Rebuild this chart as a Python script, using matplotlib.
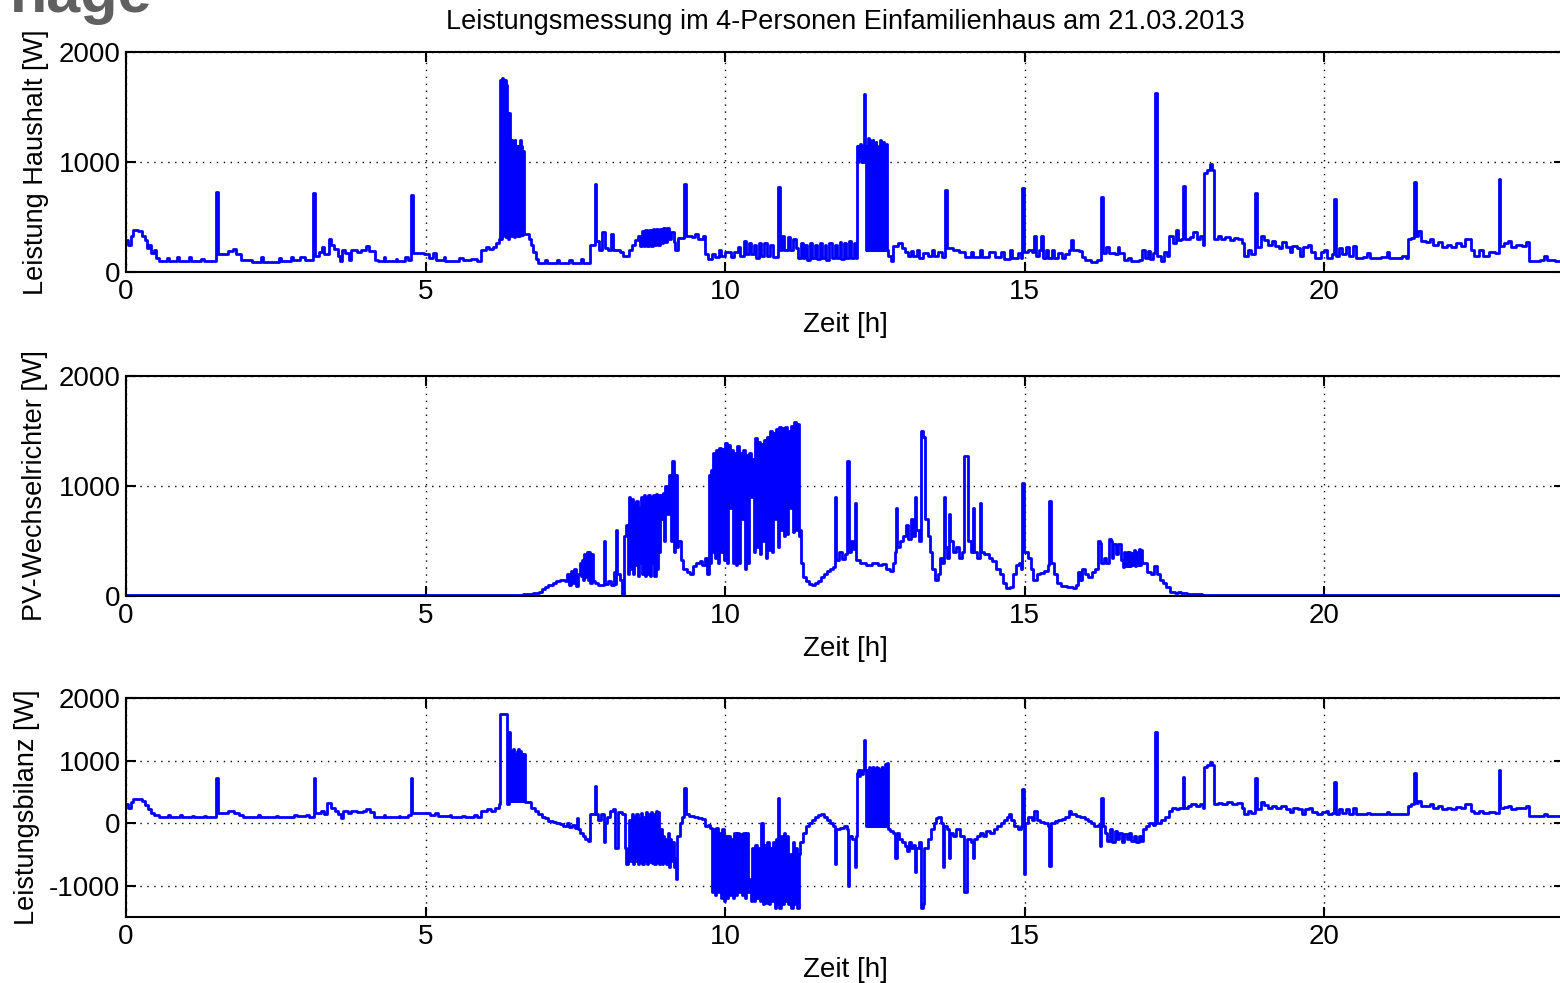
import matplotlib
matplotlib.use('Agg')
import matplotlib.pyplot as plt

plt.rcParams['font.family'] = ['Liberation Sans', 'DejaVu Sans']
plt.rcParams['axes.unicode_minus'] = False

# Leistung Haushalt [W] - (Zeit [h], Wert) Stufenpunkte
haus = [
    (0.00, 290), (0.04, 250), (0.08, 330), (0.11, 380), (0.20, 370), (0.27, 330), (0.31, 290),
    (0.35, 220), (0.38, 250), (0.41, 170), (0.46, 200), (0.50, 130), (0.55, 100), (0.68, 130),
    (0.72, 100), (0.85, 140), (0.88, 100), (1.05, 140), (1.09, 100), (1.25, 120), (1.30, 100),
    (1.50, 730), (1.53, 160), (1.70, 190), (1.78, 210), (1.84, 160), (1.92, 110), (2.10, 95),
    (2.25, 140), (2.28, 95), (2.55, 130), (2.58, 100), (2.75, 140), (2.78, 110), (2.90, 140),
    (2.98, 110), (3.12, 720), (3.15, 150), (3.22, 180), (3.27, 230), (3.31, 160), (3.38, 300),
    (3.42, 250), (3.47, 210), (3.53, 150), (3.57, 100), (3.60, 200), (3.66, 170), (3.72, 110),
    (3.76, 200), (3.85, 180), (3.93, 200), (4.00, 240), (4.06, 190), (4.16, 110), (4.20, 100),
    (4.30, 140), (4.33, 100), (4.50, 120), (4.53, 100), (4.66, 140), (4.70, 110), (4.75, 700),
    (4.79, 170), (4.97, 160), (5.05, 130), (5.12, 170), (5.18, 110), (5.30, 140), (5.33, 100),
    (5.55, 130), (5.62, 110), (5.75, 120), (5.85, 100), (5.93, 200), (6.00, 230), (6.06, 210),
    (6.12, 230), (6.18, 260), (6.22, 300),
    (6.25, 1750), (6.265, 300), (6.275, 1760), (6.29, 330), (6.30, 1750), (6.315, 1000),
    (6.325, 1750), (6.34, 320), (6.35, 1700), (6.365, 1450), (6.38, 300), (6.39, 1450),
    (6.41, 1000), (6.425, 330), (6.435, 1200), (6.45, 850), (6.46, 1180), (6.475, 320),
    (6.49, 1200), (6.50, 700), (6.515, 1150), (6.53, 330), (6.54, 1150), (6.555, 330),
    (6.57, 1200), (6.585, 340), (6.60, 1150), (6.615, 340), (6.63, 1100), (6.645, 350),
    (6.73, 300), (6.76, 250), (6.80, 180), (6.84, 120), (6.87, 80), (7.00, 110), (7.03, 80),
    (7.20, 110), (7.23, 80), (7.40, 110), (7.45, 80), (7.60, 120), (7.63, 80), (7.74, 250),
    (7.82, 800), (7.85, 280), (7.90, 200), (7.95, 360), (7.99, 220), (8.05, 200), (8.10, 350),
    (8.13, 200), (8.25, 180), (8.30, 150), (8.39, 200), (8.45, 250), (8.50, 290),
    (8.55, 330), (8.58, 240), (8.61, 370), (8.64, 240), (8.67, 380), (8.70, 240), (8.73, 380),
    (8.76, 240), (8.79, 390), (8.82, 250), (8.85, 390), (8.88, 250), (8.91, 390), (8.94, 260),
    (8.97, 400), (9.00, 270), (9.03, 400), (9.06, 300), (9.10, 360), (9.14, 270), (9.17, 200),
    (9.22, 310), (9.31, 800), (9.34, 330), (9.45, 320), (9.50, 350), (9.55, 300), (9.63, 330),
    (9.67, 160), (9.72, 120), (9.78, 160), (9.83, 140), (9.90, 200), (9.93, 150), (10.00, 180),
    (10.10, 140), (10.15, 180), (10.22, 230), (10.25, 150), (10.32, 280), (10.35, 160),
    (10.40, 260), (10.43, 160), (10.48, 250), (10.52, 130), (10.56, 260), (10.60, 150),
    (10.65, 260), (10.70, 150), (10.75, 250), (10.80, 140), (10.88, 770), (10.91, 200),
    (10.95, 330), (10.99, 200), (11.05, 320), (11.08, 200), (11.13, 300), (11.18, 220),
    (11.22, 130), (11.27, 260), (11.30, 130), (11.34, 250), (11.37, 110), (11.42, 260),
    (11.45, 130), (11.50, 250), (11.53, 120), (11.58, 260), (11.61, 130), (11.66, 250),
    (11.69, 110), (11.74, 260), (11.78, 130), (11.83, 250), (11.86, 130), (11.91, 270),
    (11.94, 120), (11.99, 260), (12.02, 130), (12.07, 280), (12.10, 130), (12.15, 260),
    (12.18, 130),
    (12.20, 1150), (12.215, 1000), (12.225, 1150), (12.24, 1050), (12.25, 1160), (12.265, 1000),
    (12.28, 1150), (12.295, 1000), (12.31, 1120), (12.325, 1620), (12.335, 1100),
    (12.35, 200), (12.36, 1150), (12.375, 200), (12.385, 1220), (12.40, 200), (12.41, 1200),
    (12.425, 200), (12.435, 1150), (12.45, 200), (12.46, 1200), (12.475, 200), (12.485, 1150),
    (12.50, 200), (12.51, 1180), (12.525, 200), (12.535, 1100), (12.55, 200), (12.56, 1150),
    (12.575, 200), (12.585, 1200), (12.60, 200), (12.61, 1150), (12.625, 200), (12.635, 1180),
    (12.65, 200), (12.66, 1150), (12.675, 200), (12.685, 1160), (12.70, 200), (12.71, 150),
    (12.76, 100), (12.80, 240), (12.88, 260), (12.95, 220), (13.00, 180), (13.05, 150),
    (13.10, 190), (13.13, 150), (13.20, 200), (13.23, 130), (13.30, 170), (13.38, 150),
    (13.45, 200), (13.48, 150), (13.56, 180), (13.62, 140), (13.67, 750), (13.70, 220),
    (13.80, 200), (13.90, 180), (14.00, 140), (14.10, 180), (14.13, 140), (14.25, 200),
    (14.28, 140), (14.40, 180), (14.50, 140), (14.60, 180), (14.65, 120), (14.75, 200),
    (14.78, 130), (14.88, 170), (14.93, 130), (14.96, 760), (14.99, 180), (15.05, 200),
    (15.12, 180), (15.16, 330), (15.19, 150), (15.24, 200), (15.27, 330), (15.30, 130),
    (15.35, 200), (15.38, 130), (15.45, 200), (15.48, 130), (15.56, 170), (15.62, 130),
    (15.68, 160), (15.74, 200), (15.77, 290), (15.80, 200), (15.90, 190), (15.95, 140),
    (16.00, 110), (16.10, 90), (16.20, 110), (16.27, 680), (16.30, 170), (16.36, 230),
    (16.40, 170), (16.50, 160), (16.55, 230), (16.58, 170), (16.65, 110), (16.72, 130),
    (16.78, 100), (16.90, 110), (16.96, 200), (17.00, 130), (17.05, 190), (17.09, 120),
    (17.14, 170), (17.18, 1630), (17.21, 150), (17.28, 100), (17.33, 180), (17.38, 150),
    (17.41, 330), (17.47, 260), (17.52, 380), (17.56, 290), (17.60, 300), (17.64, 780),
    (17.67, 300), (17.75, 320), (17.80, 360), (17.88, 300), (17.93, 330), (17.97, 250),
    (17.99, 900), (18.05, 930), (18.09, 980), (18.12, 930), (18.16, 300), (18.22, 330),
    (18.28, 300), (18.35, 320), (18.42, 290), (18.50, 310), (18.56, 300), (18.62, 260),
    (18.66, 150), (18.72, 200), (18.78, 160), (18.85, 720), (18.88, 230), (18.95, 330),
    (19.00, 290), (19.06, 250), (19.12, 280), (19.18, 240), (19.25, 220), (19.30, 270),
    (19.36, 230), (19.42, 180), (19.46, 240), (19.55, 220), (19.60, 150), (19.65, 230),
    (19.72, 250), (19.78, 180), (19.85, 130), (19.95, 180), (20.00, 200), (20.05, 130),
    (20.12, 160), (20.16, 660), (20.19, 150), (20.25, 220), (20.30, 160), (20.36, 230),
    (20.42, 150), (20.48, 240), (20.53, 130), (20.65, 140), (20.72, 170), (20.76, 130),
    (20.95, 140), (21.05, 180), (21.08, 130), (21.30, 150), (21.36, 130), (21.39, 300),
    (21.45, 310), (21.50, 820), (21.53, 330), (21.57, 370), (21.62, 280), (21.70, 270),
    (21.76, 300), (21.82, 250), (21.90, 270), (21.96, 230), (22.05, 250), (22.12, 230),
    (22.20, 260), (22.28, 240), (22.34, 300), (22.44, 200), (22.50, 150), (22.58, 200),
    (22.64, 150), (22.75, 180), (22.85, 170), (22.91, 850), (22.94, 240), (23.00, 260),
    (23.06, 280), (23.12, 230), (23.20, 250), (23.30, 240), (23.36, 270), (23.42, 100),
    (23.60, 110), (23.66, 150), (23.72, 110), (23.85, 100), (24.00, 110),
]

# PV-Wechselrichter [W]
pv = [
    (0.00, 10), (6.62, 15), (6.80, 25), (6.90, 40), (6.95, 60), (7.00, 80), (7.05, 100),
    (7.12, 120), (7.18, 140), (7.25, 150), (7.32, 140), (7.36, 200), (7.39, 100), (7.42, 230),
    (7.45, 120), (7.48, 250), (7.51, 90), (7.54, 200), (7.57, 300), (7.59, 180), (7.61, 330),
    (7.63, 150), (7.65, 380), (7.67, 170), (7.69, 400), (7.71, 150), (7.73, 400), (7.75, 120),
    (7.77, 380), (7.79, 140), (7.82, 120), (7.88, 100), (7.97, 500), (7.99, 110), (8.05, 140),
    (8.10, 100), (8.14, 220), (8.16, 110), (8.18, 600), (8.20, 200), (8.24, 150), (8.28, 10),
    (8.31, 550), (8.35, 650), (8.38, 200),
    (8.40, 900), (8.42, 250), (8.44, 880), (8.46, 200), (8.48, 850), (8.50, 280), (8.52, 860),
    (8.54, 180), (8.56, 800), (8.58, 300), (8.60, 900), (8.62, 200), (8.64, 920), (8.66, 180),
    (8.68, 900), (8.70, 200), (8.72, 920), (8.74, 180), (8.76, 900), (8.78, 300), (8.80, 920),
    (8.82, 180), (8.84, 930), (8.86, 250), (8.88, 920), (8.90, 400), (8.92, 920), (8.94, 700),
    (8.96, 940), (8.98, 500), (9.00, 1000), (9.03, 750), (9.06, 1100), (9.09, 500),
    (9.12, 1230), (9.14, 400), (9.17, 1100), (9.19, 450), (9.22, 500), (9.26, 330),
    (9.30, 250), (9.36, 220), (9.42, 200), (9.47, 270), (9.52, 300), (9.58, 320), (9.62, 280),
    (9.66, 350), (9.70, 200), (9.73, 1100), (9.745, 300), (9.76, 1150), (9.775, 400),
    (9.79, 1300),
    (9.800, 1300), (9.825, 350), (9.850, 1330), (9.875, 300), (9.900, 1350), (9.925, 400),
    (9.950, 1340), (9.975, 330), (10.000, 1390), (10.025, 300), (10.050, 1370), (10.075, 800),
    (10.100, 1330), (10.125, 300), (10.150, 1300), (10.175, 280), (10.200, 1360), (10.225, 300),
    (10.250, 1300), (10.275, 700), (10.300, 1330), (10.325, 250), (10.350, 1280), (10.375, 300),
    (10.400, 1300), (10.425, 900), (10.450, 1250), (10.475, 400), (10.500, 1440), (10.525, 450),
    (10.550, 1400), (10.575, 380), (10.600, 1380), (10.625, 500), (10.650, 1420), (10.675, 350),
    (10.700, 1450), (10.725, 420), (10.750, 1500), (10.775, 400), (10.800, 1480), (10.825, 700),
    (10.850, 1520), (10.875, 450), (10.900, 1540), (10.925, 600), (10.950, 1530), (10.975, 550),
    (11.000, 1540), (11.025, 560), (11.050, 1500), (11.075, 800), (11.100, 1550), (11.125, 580),
    (11.150, 1580), (11.175, 600), (11.200, 1560), (11.225, 550),
    (11.25, 600), (11.27, 300), (11.30, 170), (11.35, 140), (11.40, 110), (11.45, 100),
    (11.50, 120), (11.55, 140), (11.60, 170), (11.65, 200), (11.70, 230), (11.75, 250),
    (11.80, 260), (11.83, 900), (11.85, 330), (11.90, 400), (11.95, 340), (12.00, 380),
    (12.04, 1230), (12.07, 400), (12.10, 500), (12.14, 430), (12.16, 850), (12.18, 330),
    (12.25, 300), (12.35, 280), (12.45, 300), (12.55, 280), (12.62, 290), (12.68, 250),
    (12.75, 230), (12.80, 300), (12.83, 400), (12.85, 800), (12.87, 450), (12.92, 500),
    (12.97, 550), (13.02, 650), (13.05, 520), (13.10, 700), (13.13, 550), (13.17, 900),
    (13.19, 600), (13.24, 500), (13.27, 1500), (13.31, 1450), (13.33, 700), (13.38, 550),
    (13.42, 400), (13.46, 250), (13.50, 150), (13.55, 200), (13.58, 350), (13.62, 300),
    (13.65, 900), (13.67, 450), (13.71, 350), (13.74, 750), (13.76, 500), (13.80, 400),
    (13.85, 450), (13.90, 350), (13.96, 400), (13.98, 1270), (14.05, 500), (14.10, 400),
    (14.13, 800), (14.15, 400), (14.20, 350), (14.25, 850), (14.27, 400), (14.32, 380),
    (14.40, 350), (14.46, 320), (14.52, 250), (14.58, 200), (14.64, 120), (14.68, 70),
    (14.76, 80), (14.80, 200), (14.85, 280), (14.90, 300), (14.94, 250), (14.96, 1030),
    (14.99, 400), (15.05, 350), (15.10, 250), (15.14, 150), (15.20, 200), (15.26, 210),
    (15.32, 230), (15.38, 280), (15.40, 860), (15.43, 300), (15.48, 200), (15.53, 120),
    (15.60, 90), (15.70, 80), (15.80, 70), (15.86, 100), (15.89, 220), (15.93, 150),
    (15.96, 250), (16.00, 200), (16.06, 170), (16.12, 220), (16.18, 250), (16.22, 500),
    (16.25, 480), (16.28, 300), (16.32, 350), (16.36, 300), (16.40, 520), (16.44, 500),
    (16.46, 350), (16.48, 470), (16.52, 380), (16.56, 470), (16.60, 330), (16.64, 260),
    (16.66, 400), (16.68, 270), (16.70, 400), (16.72, 270), (16.74, 400), (16.76, 270),
    (16.78, 390), (16.80, 280), (16.82, 420), (16.84, 270), (16.86, 400), (16.88, 280),
    (16.90, 430), (16.92, 280), (16.94, 420), (16.96, 300), (17.00, 300), (17.04, 220),
    (17.10, 200), (17.16, 270), (17.20, 200), (17.25, 150), (17.30, 120), (17.36, 80),
    (17.42, 40), (17.50, 30), (17.55, 40), (17.60, 25), (17.70, 20), (17.80, 15),
    (17.95, 10), (24.00, 10),
]

# Leistungsbilanz [W]
bilanz = [
    (0.00, 300), (0.04, 250), (0.08, 330), (0.11, 380), (0.27, 350), (0.31, 290), (0.36, 220),
    (0.41, 160), (0.47, 130), (0.55, 100), (0.70, 130), (0.73, 100), (0.90, 130), (0.93, 100),
    (1.10, 120), (1.13, 100), (1.30, 120), (1.33, 100), (1.50, 720), (1.53, 170), (1.70, 190),
    (1.80, 170), (1.88, 130), (1.95, 100), (2.20, 130), (2.23, 100), (2.50, 120), (2.53, 100),
    (2.80, 130), (2.85, 110), (3.00, 130), (3.05, 100), (3.13, 720), (3.16, 170), (3.25, 200),
    (3.30, 150), (3.36, 320), (3.42, 250), (3.48, 200), (3.54, 150), (3.58, 80), (3.62, 200),
    (3.70, 170), (3.76, 200), (3.85, 180), (3.95, 200), (4.00, 230), (4.08, 180), (4.14, 100),
    (4.30, 130), (4.33, 100), (4.55, 120), (4.58, 100), (4.70, 130), (4.75, 720), (4.78, 170),
    (5.00, 170), (5.08, 130), (5.15, 160), (5.20, 110), (5.40, 130), (5.43, 100), (5.60, 120),
    (5.65, 100), (5.80, 130), (5.85, 100), (5.93, 200), (6.02, 230), (6.10, 200), (6.16, 250),
    (6.22, 300), (6.25, 1750), (6.36, 300), (6.385, 1450), (6.415, 1000), (6.425, 350),
    (6.435, 1150), (6.45, 350), (6.46, 1180), (6.475, 350), (6.49, 1100), (6.505, 350),
    (6.52, 1150), (6.535, 350), (6.55, 1180), (6.565, 350), (6.58, 1150), (6.595, 350),
    (6.61, 1100), (6.625, 350), (6.64, 1100), (6.655, 340), (6.72, 330), (6.76, 250),
    (6.82, 200), (6.88, 150), (6.95, 100), (7.00, 80), (7.05, 40), (7.12, 20), (7.18, 0),
    (7.25, -20), (7.30, -40), (7.36, 0), (7.40, -60), (7.45, -30), (7.50, -80), (7.52, 80),
    (7.54, -100), (7.58, -150), (7.62, -200), (7.66, -260), (7.71, -290), (7.74, 150),
    (7.82, 600), (7.84, 150), (7.88, 50), (7.92, 150), (7.97, -300), (7.99, 0), (8.03, 100),
    (8.08, 200), (8.13, 230), (8.16, -400), (8.21, 180), (8.27, 150), (8.32, -400),
    (8.35, -650), (8.38, -400),
    (8.40, 50), (8.42, -600), (8.44, 150), (8.46, -650), (8.48, 100), (8.50, -600), (8.52, 150),
    (8.54, -650), (8.56, 80), (8.58, -620), (8.60, 160), (8.62, -650), (8.64, 100), (8.66, -600),
    (8.68, 180), (8.70, -650), (8.72, 150), (8.74, -620), (8.76, 180), (8.78, -640), (8.80, 150),
    (8.82, -650), (8.84, 200), (8.86, -620), (8.88, 180), (8.90, -660), (8.92, -100),
    (8.94, -650), (8.96, -200), (8.98, -620), (9.00, -250), (9.02, -650), (9.04, -150),
    (9.06, -700), (9.08, -250), (9.10, -600), (9.12, -300), (9.14, -700), (9.16, -550),
    (9.18, -900), (9.20, -200), (9.24, 0), (9.28, 100), (9.31, 560), (9.34, 150), (9.40, 120),
    (9.48, 100), (9.55, 80), (9.62, 60), (9.67, -50), (9.72, -30), (9.75, -80),
    (9.775, -1100), (9.800, -100), (9.825, -1150), (9.850, -80), (9.875, -1100), (9.900, -150),
    (9.925, -1200), (9.950, -100), (9.975, -1250), (10.000, -200), (10.025, -1200),
    (10.050, -200), (10.075, -1150), (10.100, -250), (10.125, -1200), (10.150, -150),
    (10.175, -1150), (10.200, -150), (10.225, -1100), (10.250, -180), (10.275, -1150),
    (10.300, -150), (10.325, -1200), (10.350, -150), (10.375, -1100), (10.400, -900),
    (10.425, -1250), (10.450, -400), (10.475, -1250), (10.500, -350), (10.525, -1200),
    (10.550, -400), (10.575, -1250), (10.600, 0), (10.625, -1300), (10.650, -350),
    (10.675, -1280), (10.700, -300), (10.725, -1300), (10.750, -400), (10.775, -1250),
    (10.800, -300), (10.825, -1350), (10.850, -250), (10.875, -1300), (10.890, 400),
    (10.905, -1350), (10.925, -200), (10.950, -1300), (10.975, -150), (11.000, -1250),
    (11.025, -200), (11.050, -1300), (11.075, -500), (11.100, -1350), (11.125, -300),
    (11.150, -1300), (11.175, -400), (11.200, -1350), (11.225, -500),
    (11.25, -300), (11.30, -150), (11.35, -50), (11.40, 0), (11.45, 50), (11.50, 100),
    (11.55, 130), (11.60, 150), (11.65, 100), (11.70, 50), (11.75, 0), (11.80, -50),
    (11.83, -650), (11.85, -100), (11.92, -80), (11.98, -50), (12.03, -100), (12.05, -1000),
    (12.07, -200), (12.12, -250), (12.16, -700), (12.18, -200),
    (12.20, 800), (12.215, 850), (12.23, 750), (12.245, 850), (12.26, 800), (12.275, 830),
    (12.29, 780), (12.305, 850), (12.325, 1330), (12.34, 850), (12.355, -50), (12.37, 850),
    (12.385, -50), (12.40, 900), (12.415, -50), (12.43, 880), (12.445, -50), (12.46, 900),
    (12.475, -50), (12.49, 860), (12.505, -50), (12.52, 900), (12.535, -50), (12.55, 880),
    (12.565, -50), (12.58, 850), (12.595, -50), (12.61, 900), (12.625, -50), (12.64, 880),
    (12.655, -50), (12.67, 950), (12.685, -50), (12.70, 960), (12.715, -100),
    (12.75, -120), (12.80, -150), (12.84, -550), (12.86, -150), (12.90, -250), (12.95, -300),
    (13.00, -370), (13.04, -450), (13.06, -300), (13.10, -400), (13.14, -350), (13.17, -780),
    (13.19, -400), (13.23, -300), (13.27, -1350), (13.30, -1300), (13.32, -400),
    (13.38, -250), (13.44, -100), (13.48, 0), (13.52, 80), (13.56, 100), (13.60, 0),
    (13.64, -700), (13.66, -50), (13.70, -100), (13.73, -550), (13.75, -150), (13.80, -200),
    (13.86, -100), (13.92, -200), (13.98, -1100), (14.03, -250), (14.10, -300),
    (14.13, -550), (14.15, -250), (14.20, -200), (14.25, -150), (14.30, -200), (14.36, -120),
    (14.42, -160), (14.48, -100), (14.54, -50), (14.60, 0), (14.66, 50), (14.70, 100),
    (14.73, 150), (14.77, 50), (14.82, -50), (14.88, -100), (14.93, -50), (14.95, 550),
    (14.98, -820), (15.01, 0), (15.06, 100), (15.12, 50), (15.16, 200), (15.20, 50),
    (15.26, 20), (15.32, 0), (15.38, -50), (15.41, -690), (15.44, 0), (15.50, 30),
    (15.56, 50), (15.62, 60), (15.68, 100), (15.74, 200), (15.78, 150), (15.85, 120),
    (15.92, 100), (16.00, 60), (16.05, 30), (16.10, 0), (16.16, -50), (16.22, -30),
    (16.26, -360), (16.28, 400), (16.30, -50), (16.34, -150), (16.38, -280), (16.42, -100),
    (16.46, -300), (16.50, -120), (16.54, -250), (16.58, -150), (16.62, -300), (16.66, -180),
    (16.70, -250), (16.74, -150), (16.78, -280), (16.82, -200), (16.86, -300), (16.90, -200),
    (16.94, -290), (16.98, -100), (17.02, -50), (17.08, 0), (17.14, -30), (17.18, 1450),
    (17.21, 0), (17.28, 50), (17.34, 100), (17.40, 200), (17.46, 250), (17.52, 230),
    (17.58, 250), (17.64, 730), (17.66, 250), (17.72, 280), (17.78, 300), (17.85, 270),
    (17.92, 300), (17.97, 250), (17.99, 900), (18.05, 930), (18.09, 970), (18.13, 930),
    (18.16, 300), (18.22, 320), (18.30, 300), (18.38, 330), (18.46, 300), (18.55, 320),
    (18.62, 250), (18.66, 150), (18.72, 200), (18.78, 160), (18.85, 720), (18.88, 230),
    (18.95, 330), (19.00, 290), (19.06, 250), (19.12, 280), (19.20, 240), (19.28, 270),
    (19.36, 230), (19.42, 180), (19.48, 240), (19.56, 220), (19.62, 150), (19.68, 230),
    (19.74, 250), (19.80, 180), (19.88, 150), (19.96, 180), (20.02, 200), (20.06, 140),
    (20.12, 170), (20.16, 660), (20.19, 150), (20.25, 220), (20.30, 160), (20.36, 230),
    (20.42, 150), (20.48, 250), (20.53, 140), (20.65, 150), (20.72, 170), (20.76, 140),
    (20.95, 150), (21.05, 180), (21.08, 140), (21.30, 150), (21.36, 140), (21.39, 280),
    (21.45, 300), (21.50, 800), (21.53, 320), (21.57, 360), (21.62, 280), (21.70, 270),
    (21.76, 300), (21.82, 250), (21.90, 270), (21.96, 230), (22.05, 250), (22.12, 230),
    (22.20, 260), (22.28, 240), (22.34, 300), (22.44, 200), (22.50, 160), (22.58, 200),
    (22.64, 160), (22.75, 180), (22.85, 170), (22.91, 850), (22.94, 240), (23.00, 260),
    (23.06, 280), (23.12, 230), (23.20, 250), (23.30, 240), (23.36, 270), (23.42, 110),
    (23.60, 120), (23.66, 150), (23.72, 110), (23.85, 120), (24.00, 120),
]

x_ticks = [0, 5, 10, 15, 20]
y_ticks_top = [0, 1000, 2000]
y_ticks_bottom = [-1000, 0, 1000, 2000]
title = 'Leistungsmessung im 4-Personen Einfamilienhaus am 21.03.2013'

fig = plt.figure(figsize=(15.6, 9.83), dpi=100)
W, H = 1560, 983
left, width = 126 / W, (1564 - 126) / W

panels = [
    (haus, 'Leistung Haushalt [W]', (0, 2000), y_ticks_top, 272, 220, 36),
    (pv, 'PV-Wechselrichter [W]', (0, 2000), y_ticks_top, 596, 220, 35),
    (bilanz, 'Leistungsbilanz [W]', (-1500, 2000), y_ticks_bottom, 917, 219, 27),
]

for data, ylabel, ylim, yticks, bottom_px, height_px, ylab_px in panels:
    ax = fig.add_axes([left, 1 - bottom_px / H, width, height_px / H])
    t, p = zip(*data)
    ax.plot(t, p, color='#0000ff', linewidth=2.0, drawstyle='steps-post')
    ax.set_xlim(0, 24)
    ax.set_ylim(*ylim)
    ax.set_xticks(x_ticks)
    ax.set_yticks(yticks)
    ax.grid(True, color='black', linestyle=(0, (1, 4)), linewidth=1.0)
    ax.tick_params(direction='in', length=7, width=1.5, top=True, right=True,
                   labelsize=20, pad=5)
    ax.tick_params(axis='y', pad=4)
    for s in ax.spines.values():
        s.set_linewidth(1.5)
    ax.set_xlabel('Zeit [h]', fontsize=20, va='center')
    ax.xaxis.set_label_coords(0.5, -53 / height_px)
    ax.set_ylabel(ylabel, fontsize=19.5, va='center')
    ax.yaxis.set_label_coords((ylab_px - 126) / 1438, 0.5)

fig.text(845 / W, 1 - 22 / H, title, ha='center', va='center', fontsize=19.5)
fig.text(10 / W, 1 - 12 / H, 'nage', ha='left', va='baseline', fontsize=44,
         fontweight='bold', color='#606060')

fig.savefig('out.png', dpi=100)
